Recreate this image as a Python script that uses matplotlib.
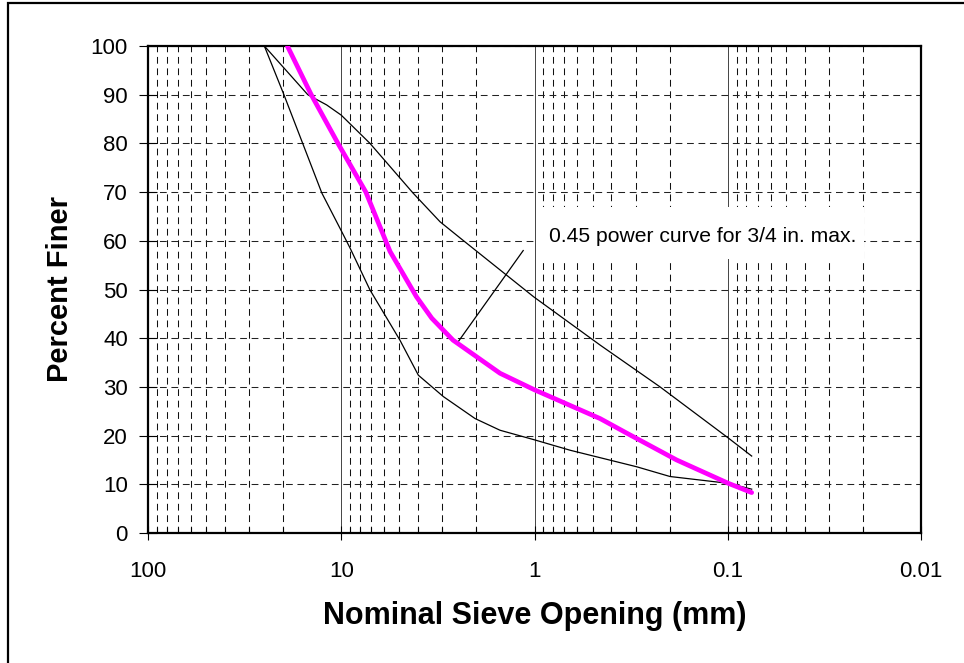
import matplotlib
matplotlib.use('Agg')
import matplotlib.pyplot as plt
from matplotlib.patches import Rectangle
from matplotlib.ticker import LogLocator, FixedLocator, NullFormatter

plt.rcParams['font.family'] = ['Liberation Sans', 'DejaVu Sans']

# sieve opening (mm) vs percent finer
upper_mm = [25, 14.9, 11.9, 10, 7.1, 4.25, 3.08, 2.43, 1.01, 0.458, 0.224, 0.0993, 0.0752]
upper_pct = [100, 90, 87.9, 85.8, 80, 69.8, 63.9, 60.6, 48.5, 38.6, 30.0, 19.5, 15.8]

lower_mm = [25, 19.8, 12.6, 9.95, 9.0, 7.1, 4.97, 3.99, 2.96, 2.03, 1.508, 0.994, 0.655, 0.296, 0.199, 0.0993, 0.0752]
lower_pct = [100, 90, 69.8, 61.9, 58.5, 49.9, 39.6, 32.4, 28.0, 23.5, 21.1, 19.1, 17.0, 13.6, 11.6, 10.2, 9.0]

power_mm = [19, 14.3, 10.4, 7.46, 5.59, 4.08, 3.40, 2.64, 1.508, 1.0, 0.458, 0.333, 0.184, 0.0993, 0.0752]
power_pct = [100, 90, 80, 70, 57.8, 48.5, 44.1, 39.6, 32.8, 29.4, 23.5, 20.5, 15.0, 10.2, 8.3]

leader_mm = [2.48, 1.144]
leader_pct = [39.3, 58.0]

x_ticks = [100, 10, 1, 0.1, 0.01]
x_labels = ['100', '10', '1', '0.1', '0.01']
y_ticks = list(range(0, 101, 10))

fig = plt.figure(figsize=(9.64, 6.63), dpi=100)
ax = fig.add_axes([148 / 964, 1 - 533 / 663, 773 / 964, 487 / 663])

ax.set_xscale('log')
ax.set_xlim(100, 0.01)
ax.set_ylim(0, 100)

# grid
dash = (0, (6.5, 4.5))
ax.xaxis.set_major_locator(FixedLocator(x_ticks))
ax.xaxis.set_minor_locator(LogLocator(base=10, subs=range(2, 10)))
ax.xaxis.set_minor_formatter(NullFormatter())
ax.set_xticklabels(x_labels)
ax.set_yticks(y_ticks)
ax.grid(True, which='major', axis='x', color='#444444', linewidth=0.7, linestyle='-')
ax.grid(True, which='minor', axis='x', color='#111111', linewidth=0.75, linestyle=dash)
ax.grid(True, which='major', axis='y', color='#222222', linewidth=0.75, linestyle=dash)

ax.plot(upper_mm, upper_pct, color='black', linewidth=0.9, zorder=3)
ax.plot(lower_mm, lower_pct, color='black', linewidth=0.9, zorder=3)
ax.plot(power_mm, power_pct, color='#FF00FF', linewidth=3.4, zorder=4, solid_capstyle='round')
ax.plot(leader_mm, leader_pct, color='black', linewidth=0.9, zorder=3)

# white box behind the label
ax.add_patch(Rectangle((0.502, 0.5626), 0.424, 0.1064, transform=ax.transAxes,
                       facecolor='white', edgecolor='none', zorder=2.5))
ax.text(0.841, 60.8, '0.45 power curve for 3/4 in. max.', fontsize=15.2,
        ha='left', va='center', zorder=5)

for s in ax.spines.values():
    s.set_linewidth(1.6)
    s.set_color('black')

ax.tick_params(axis='x', which='major', direction='inout', length=10, width=0.8,
               labelsize=16, pad=15)
ax.tick_params(axis='x', which='minor', direction='in', length=4, width=0.8)
ax.tick_params(axis='y', which='major', direction='inout', length=13, width=0.8,
               labelsize=16, pad=8)

ax.set_xlabel('Nominal Sieve Opening (mm)', fontsize=22, fontweight='bold', labelpad=14)
ax.set_ylabel('Percent Finer', fontsize=21, fontweight='bold', labelpad=12)

# outer frame (right and bottom edges fall outside the picture)
fig.patches.append(Rectangle((8 / 964, -0.05), 1.2, 1 - 3 / 663 + 0.05,
                             transform=fig.transFigure, fill=False,
                             edgecolor='black', linewidth=1.6))

plt.savefig('out.png', dpi=100)
